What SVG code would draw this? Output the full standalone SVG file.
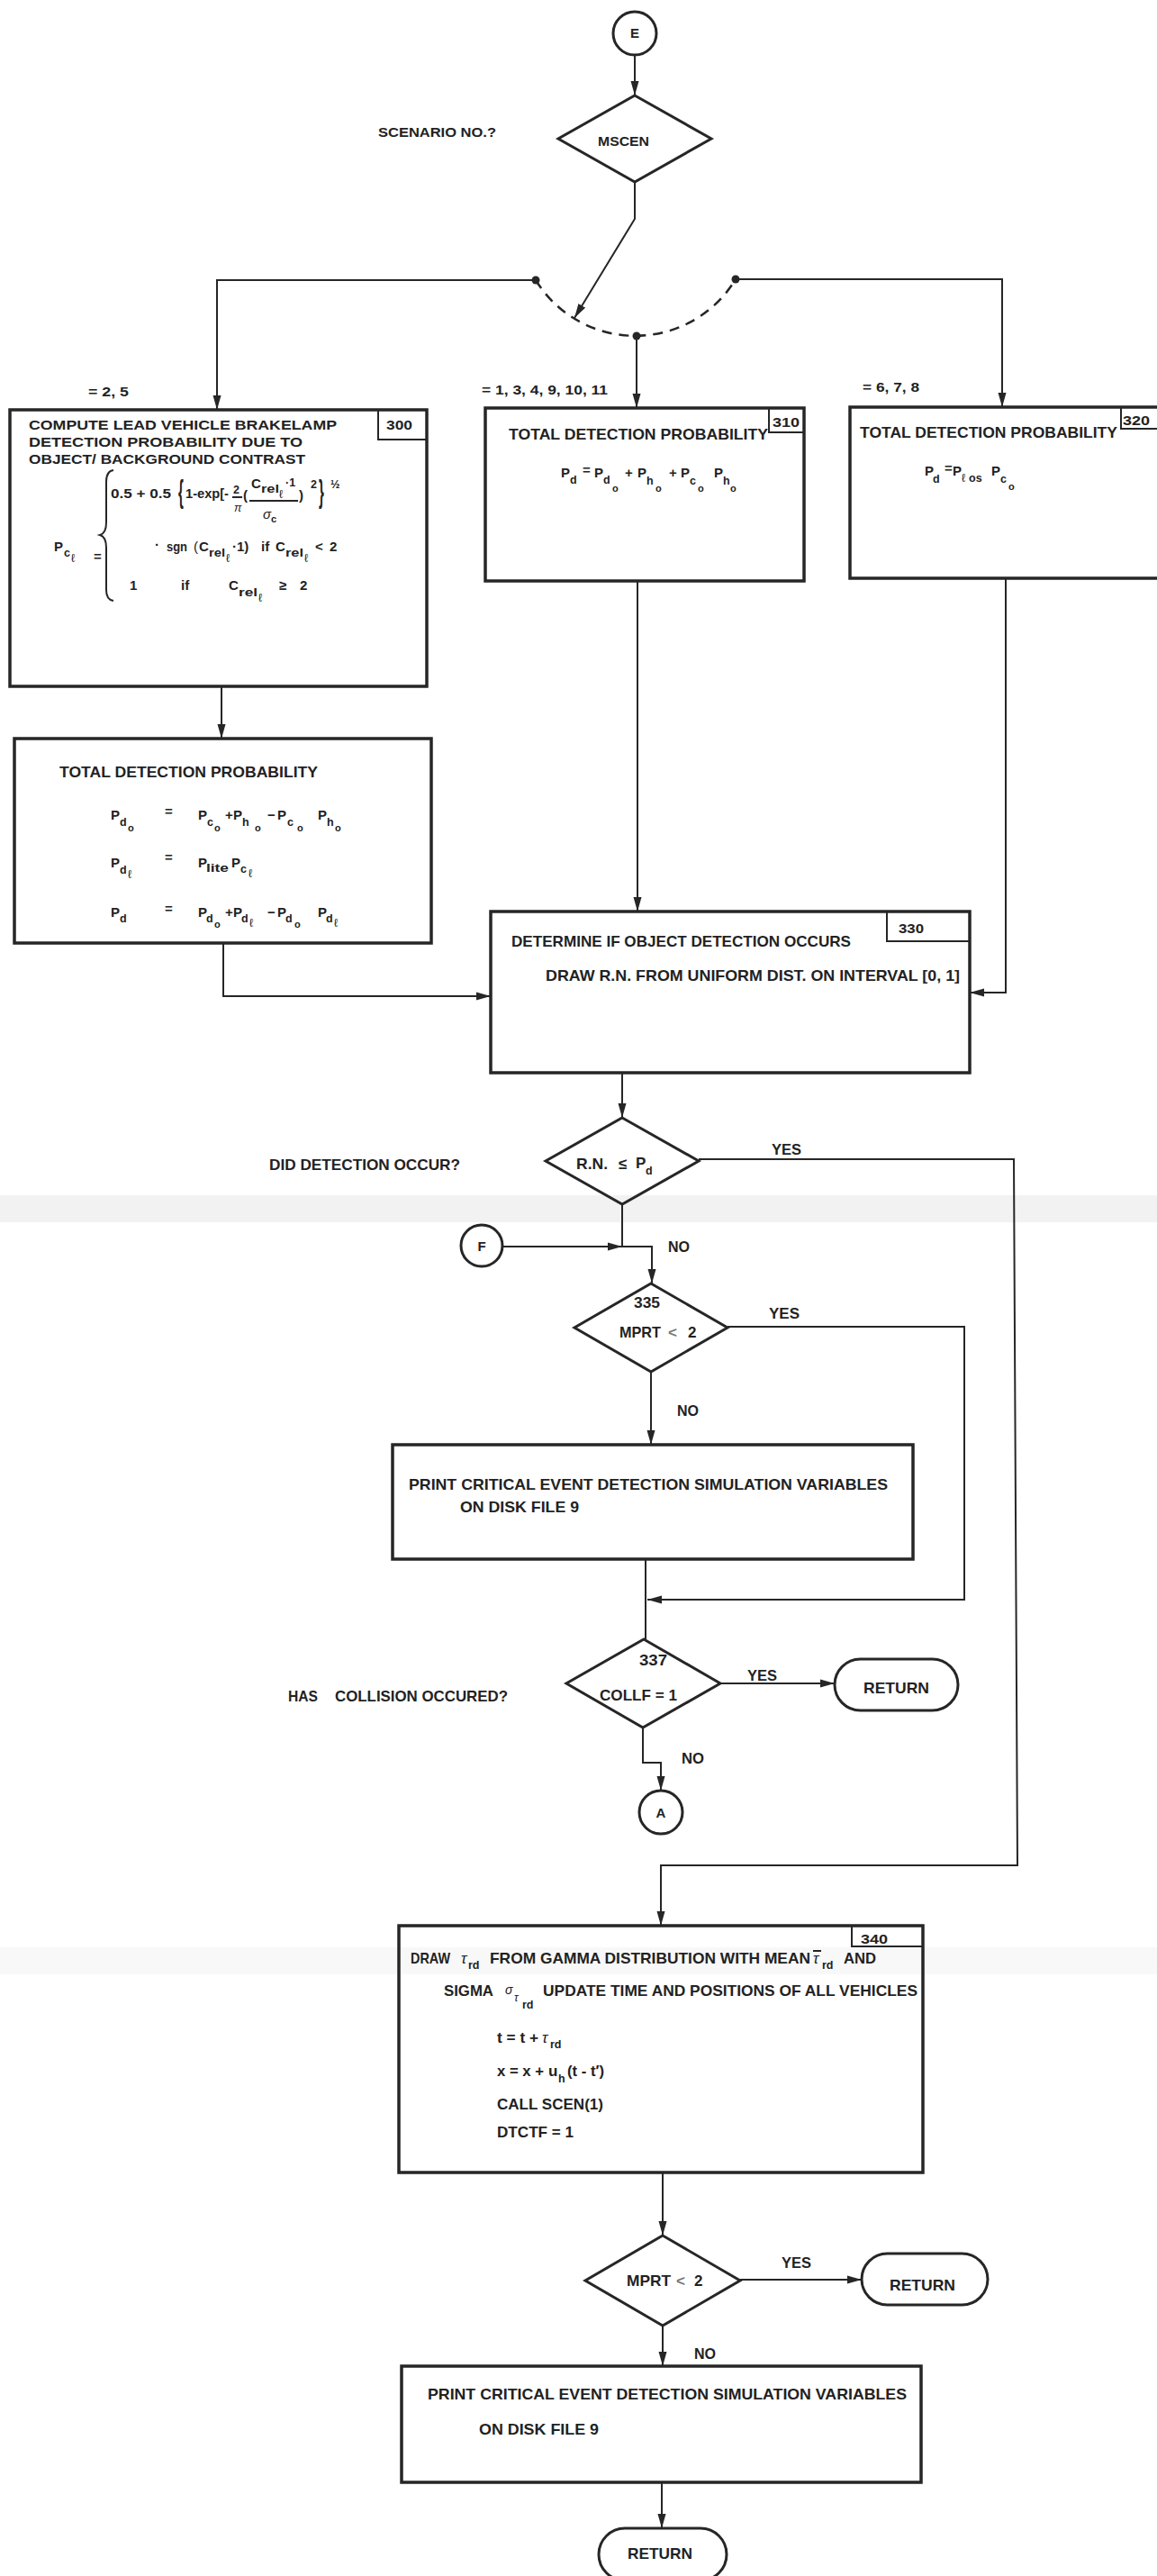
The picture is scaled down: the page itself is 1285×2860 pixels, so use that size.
<svg xmlns="http://www.w3.org/2000/svg" width="1285" height="2860" viewBox="0 0 1285 2860">
  <style>
    .ln { fill: none; stroke: #262626; stroke-width: 2; }
    .dash { fill: none; stroke: #262626; stroke-width: 2.5; stroke-dasharray: 11 8; }
    .bx { fill: none; stroke: #262626; stroke-width: 3.5; }
    .tag { fill: none; stroke: #262626; stroke-width: 2; }
    .dm { fill: none; stroke: #262626; stroke-width: 3; }
    .dot { fill: #262626; }
    text { font-family: "Liberation Sans", Arial, sans-serif; font-weight: bold; fill: #222; }
    .t15 { font-size: 15px; }
    .t16 { font-size: 17px; }
    .m { font-size: 15px; }
    .sb { font-size: 12.5px; }
    .ss { font-size: 11px; }
    .sl { font-size: 13px; font-weight: normal; }
    .it { font-style: italic; font-weight: normal; }
    .c { text-anchor: middle; }
  </style>
  <defs>
    <marker id="ah" viewBox="0 0 16 10" refX="16" refY="5" markerWidth="16" markerHeight="10" markerUnits="userSpaceOnUse" orient="auto">
      <path d="M0,0.5 L16,5 L0,9.5 z" fill="#262626"/>
    </marker>
  </defs>

  <rect width="1285" height="2860" fill="#ffffff"/>
  <!-- faint scan bands -->
  <rect x="0" y="1327" width="1285" height="30" fill="#f2f2f2"/>
  <rect x="0" y="2162" width="1285" height="30" fill="#f8f8f8"/>

  <!-- connectors -->
  <g id="connectors">
    <path class="ln" d="M705,61 L705,106" marker-end="url(#ah)"/>
    <path class="ln" d="M705,202 L705,243 L638,353" marker-end="url(#ah)"/>
    <path class="dash" d="M595,311 A130,130 0 0 0 817,310"/>
    <circle class="dot" cx="595" cy="311" r="4.5"/>
    <circle class="dot" cx="707" cy="373" r="4.5"/>
    <circle class="dot" cx="817" cy="310" r="4.5"/>
    <path class="ln" d="M595,311 L241,311 L241,455" marker-end="url(#ah)"/>
    <path class="ln" d="M707,373 L707,453" marker-end="url(#ah)"/>
    <path class="ln" d="M817,310 L1113,310 L1113,452" marker-end="url(#ah)"/>
    <path class="ln" d="M246,762 L246,820" marker-end="url(#ah)"/>
    <path class="ln" d="M248,1047 L248,1106 L545,1106" marker-end="url(#ah)"/>
    <path class="ln" d="M708,645 L708,1012" marker-end="url(#ah)"/>
    <path class="ln" d="M1117,642 L1117,1102 L1077,1102" marker-end="url(#ah)"/>
    <path class="ln" d="M691,1191 L691,1241" marker-end="url(#ah)"/>
    <path class="ln" d="M691,1337 L691,1384 L724,1384 L724,1425" marker-end="url(#ah)"/>
    <path class="ln" d="M558,1384 L691,1384" marker-end="url(#ah)"/>
    <path class="ln" d="M776,1287 L1126,1287 L1130,2071 L734,2071 L734,2138" marker-end="url(#ah)"/>
    <path class="ln" d="M723,1523 L723,1604" marker-end="url(#ah)"/>
    <path class="ln" d="M808,1473 L1071,1473 L1071,1776 L719,1776" marker-end="url(#ah)"/>
    <path class="ln" d="M717,1731 L717,1820"/>
    <path class="ln" d="M799,1869 L927,1869" marker-end="url(#ah)"/>
    <path class="ln" d="M714,1918 L714,1957 L734,1957 L734,1988" marker-end="url(#ah)"/>
    <path class="ln" d="M736,2412 L736,2482" marker-end="url(#ah)"/>
    <path class="ln" d="M822,2531 L957,2531" marker-end="url(#ah)"/>
    <path class="ln" d="M736,2582 L736,2627" marker-end="url(#ah)"/>
    <path class="ln" d="M735,2756 L735,2807" marker-end="url(#ah)"/>
  </g>

  <!-- connector labels -->
  <g id="labels">
    <text class="t15" x="420" y="152" textLength="131" lengthAdjust="spacingAndGlyphs">SCENARIO NO.?</text>
    <text class="t15" x="98" y="440" textLength="45" lengthAdjust="spacingAndGlyphs">= 2, 5</text>
    <text class="t15" x="535" y="438" textLength="140" lengthAdjust="spacingAndGlyphs">= 1, 3, 4, 9, 10, 11</text>
    <text class="t15" x="958" y="435" textLength="63" lengthAdjust="spacingAndGlyphs">= 6, 7, 8</text>
    <text class="t16" x="299" y="1299" textLength="212" lengthAdjust="spacingAndGlyphs">DID DETECTION OCCUR?</text>
    <text class="t16" x="857" y="1282" textLength="33" lengthAdjust="spacingAndGlyphs">YES</text>
    <text class="t16" x="742" y="1390" textLength="24" lengthAdjust="spacingAndGlyphs">NO</text>
    <text class="t16" x="854" y="1464" textLength="34" lengthAdjust="spacingAndGlyphs">YES</text>
    <text class="t16" x="752" y="1572" textLength="24" lengthAdjust="spacingAndGlyphs">NO</text>
    <text class="t16" x="830" y="1866" textLength="33" lengthAdjust="spacingAndGlyphs">YES</text>
    <text class="t16"><tspan x="320" y="1889" textLength="33" lengthAdjust="spacingAndGlyphs">HAS</tspan><tspan x="372" y="1889" textLength="192" lengthAdjust="spacingAndGlyphs">COLLISION OCCURED?</tspan></text>
    <text class="t16" x="757" y="1958" textLength="25" lengthAdjust="spacingAndGlyphs">NO</text>
    <text class="t16" x="868" y="2518" textLength="33" lengthAdjust="spacingAndGlyphs">YES</text>
    <text class="t16" x="771" y="2619" textLength="24" lengthAdjust="spacingAndGlyphs">NO</text>
  </g>

  <!-- connector E -->
  <g id="node-E">
    <circle class="dm" cx="705" cy="37" r="24"/>
    <text class="t15 c" x="705" y="42">E</text>
  </g>

  <!-- scenario switch -->
  <g id="node-mscen">
    <path class="dm" d="M705,106 L790,154 L705,202 L620,154 Z"/>
    <text class="t15" x="664" y="162" textLength="57" lengthAdjust="spacingAndGlyphs">MSCEN</text>
  </g>

  <!-- block 300 -->
  <g id="node-300">
    <rect class="bx" x="11" y="455" width="463" height="307"/>
    <path class="tag" d="M420,455 L420,488 L474,488"/>
    <text class="t15" x="429" y="477" textLength="29" lengthAdjust="spacingAndGlyphs">300</text>
    <text class="t15" x="32" y="477" textLength="342" lengthAdjust="spacingAndGlyphs">COMPUTE LEAD VEHICLE BRAKELAMP</text>
    <text class="t15" x="32" y="496" textLength="304" lengthAdjust="spacingAndGlyphs">DETECTION PROBABILITY DUE TO</text>
    <text class="t15" x="32" y="515" textLength="307" lengthAdjust="spacingAndGlyphs">OBJECT/ BACKGROUND CONTRAST</text>
    <!-- piecewise brace -->
    <path class="ln" d="M126,522 Q118,523 118,535 L118,580 Q118,592 111,594 Q118,596 118,608 L118,655 Q118,666 126,667"/>
    <!-- first case -->
    <text class="m" x="123" y="553" textLength="67" lengthAdjust="spacingAndGlyphs">0.5 + 0.5</text>
    <text class="m" font-weight="normal" transform="translate(198,558) scale(1,2.3)">{</text>
    <text class="m" x="206" y="553" textLength="48" lengthAdjust="spacingAndGlyphs">1-exp[-</text>
    <text class="sb" x="259" y="548">2</text>
    <line class="ln" x1="258" y1="552" x2="269" y2="552" stroke-width="1.5"/>
    <text class="sb it" x="260" y="568">π</text>
    <text class="m" font-weight="normal" x="270" y="555">(</text>
    <text class="m"><tspan x="279" y="542">C</tspan><tspan class="sb" x="290" y="547" textLength="20" lengthAdjust="spacingAndGlyphs">rel</tspan><tspan class="sl" x="310" y="553">ℓ</tspan><tspan class="sb" x="317" y="540">·1</tspan></text>
    <line class="ln" x1="277" y1="556" x2="331" y2="556" stroke-width="1.5"/>
    <text class="m it" x="292" y="576">σ</text>
    <text class="ss" x="301" y="580">c</text>
    <text class="m" font-weight="normal" x="332" y="555">)</text>
    <text class="sb" x="345" y="542">2</text>
    <text class="m" font-weight="normal" transform="translate(354,558) scale(1,2.3)">}</text>
    <text class="sb" x="367" y="542">½</text>
    <!-- left side -->
    <text class="m"><tspan x="60" y="612">P</tspan><tspan class="sb" x="71" y="618">c</tspan><tspan class="sl" x="79" y="624">ℓ</tspan></text>
    <text class="m" x="104" y="623">=</text>
    <!-- second line of first case -->
    <text class="m"><tspan x="172" y="610">·</tspan><tspan x="185" y="612" textLength="23" lengthAdjust="spacingAndGlyphs">sgn</tspan><tspan x="215" y="612" font-weight="normal">(</tspan><tspan x="221" y="612">C</tspan><tspan class="sb" x="232" y="618" textLength="18" lengthAdjust="spacingAndGlyphs">rel</tspan><tspan class="sl" x="251" y="624">ℓ</tspan><tspan x="258" y="612">·1)</tspan><tspan x="290" y="612">if</tspan><tspan x="306" y="612">C</tspan><tspan class="sb" x="317" y="618" textLength="20" lengthAdjust="spacingAndGlyphs">rel</tspan><tspan class="sl" x="338" y="624">ℓ</tspan><tspan x="350" y="612">&lt;</tspan><tspan x="366" y="612">2</tspan></text>
    <!-- second case -->
    <text class="m"><tspan x="144" y="655">1</tspan><tspan x="201" y="655">if</tspan><tspan x="254" y="655">C</tspan><tspan class="sb" x="265" y="662" textLength="21" lengthAdjust="spacingAndGlyphs">rel</tspan><tspan class="sl" x="287" y="668">ℓ</tspan><tspan x="310" y="655">≥</tspan><tspan x="333" y="655">2</tspan></text>
  </g>

  <!-- total detection probability (brakelamp branch) -->
  <g id="node-total-lamp">
    <rect class="bx" x="16" y="820" width="463" height="227"/>
    <text class="t16" x="66" y="863" textLength="287" lengthAdjust="spacingAndGlyphs">TOTAL DETECTION PROBABILITY</text>
    <text class="m"><tspan x="123" y="910">P</tspan><tspan class="sb" x="133" y="917">d</tspan><tspan class="ss" x="142" y="923">o</tspan><tspan x="183" y="906">=</tspan><tspan x="220" y="910">P</tspan><tspan class="sb" x="230" y="917">c</tspan><tspan class="ss" x="238" y="923">o</tspan><tspan x="250" y="910">+</tspan><tspan x="259" y="910">P</tspan><tspan class="sb" x="269" y="917">h</tspan><tspan class="ss" x="283" y="923">o</tspan><tspan x="297" y="910">−</tspan><tspan x="308" y="910">P</tspan><tspan class="sb" x="319" y="917">c</tspan><tspan class="ss" x="330" y="923">o</tspan><tspan x="353" y="910">P</tspan><tspan class="sb" x="363" y="917">h</tspan><tspan class="ss" x="372" y="923">o</tspan></text>
    <text class="m"><tspan x="123" y="963">P</tspan><tspan class="sb" x="133" y="970">d</tspan><tspan class="sl" x="142" y="975">ℓ</tspan><tspan x="183" y="957">=</tspan><tspan x="220" y="963">P</tspan><tspan class="sb" x="229" y="968" textLength="25" lengthAdjust="spacingAndGlyphs">lite</tspan><tspan x="257" y="963">P</tspan><tspan class="sb" x="267" y="969">c</tspan><tspan class="sl" x="276" y="974">ℓ</tspan></text>
    <text class="m"><tspan x="123" y="1018">P</tspan><tspan class="sb" x="133" y="1024">d</tspan><tspan x="183" y="1014">=</tspan><tspan x="220" y="1018">P</tspan><tspan class="sb" x="229" y="1024">d</tspan><tspan class="ss" x="238" y="1030">o</tspan><tspan x="250" y="1018">+</tspan><tspan x="259" y="1018">P</tspan><tspan class="sb" x="268" y="1024">d</tspan><tspan class="sl" x="277" y="1029">ℓ</tspan><tspan x="297" y="1018">−</tspan><tspan x="308" y="1018">P</tspan><tspan class="sb" x="317" y="1024">d</tspan><tspan class="ss" x="327" y="1030">o</tspan><tspan x="353" y="1018">P</tspan><tspan class="sb" x="362" y="1024">d</tspan><tspan class="sl" x="371" y="1029">ℓ</tspan></text>
  </g>

  <!-- block 310 -->
  <g id="node-310">
    <rect class="bx" x="539" y="453" width="354" height="192"/>
    <path class="tag" d="M854,453 L854,480 L893,480"/>
    <text class="t15" x="858" y="474" textLength="30" lengthAdjust="spacingAndGlyphs">310</text>
    <text class="t16" x="565" y="488" textLength="288" lengthAdjust="spacingAndGlyphs">TOTAL DETECTION PROBABILITY</text>
    <text class="m"><tspan x="623" y="530">P</tspan><tspan class="sb" x="633" y="537">d</tspan><tspan x="647" y="527">=</tspan><tspan x="660" y="530">P</tspan><tspan class="sb" x="670" y="537">d</tspan><tspan class="ss" x="680" y="546">o</tspan><tspan x="694" y="530">+</tspan><tspan x="708" y="530">P</tspan><tspan class="sb" x="718" y="538">h</tspan><tspan class="ss" x="728" y="546">o</tspan><tspan x="743" y="530">+</tspan><tspan x="756" y="530">P</tspan><tspan class="sb" x="766" y="538">c</tspan><tspan class="ss" x="775" y="546">o</tspan><tspan x="793" y="530">P</tspan><tspan class="sb" x="803" y="538">h</tspan><tspan class="ss" x="811" y="546">o</tspan></text>
  </g>

  <!-- block 320 -->
  <g id="node-320">
    <rect class="bx" x="944" y="452" width="360" height="190"/>
    <path class="tag" d="M1245,452 L1245,476 L1290,476"/>
    <text class="t15" x="1247" y="472" textLength="30" lengthAdjust="spacingAndGlyphs">320</text>
    <text class="t16" x="955" y="486" textLength="286" lengthAdjust="spacingAndGlyphs">TOTAL DETECTION PROBABILITY</text>
    <text class="m"><tspan x="1027" y="528">P</tspan><tspan class="sb" x="1036" y="536">d</tspan><tspan x="1049" y="525">=</tspan><tspan x="1058" y="528">P</tspan><tspan class="sl" x="1068" y="535">ℓ</tspan><tspan class="sb" x="1076" y="535">os</tspan><tspan x="1101" y="528">P</tspan><tspan class="sb" x="1111" y="536">c</tspan><tspan class="ss" x="1120" y="544">o</tspan></text>
  </g>

  <!-- block 330 -->
  <g id="node-330">
    <rect class="bx" x="545" y="1012" width="532" height="179"/>
    <path class="tag" d="M985,1012 L985,1045 L1077,1045"/>
    <text class="t15" x="998" y="1036" textLength="28" lengthAdjust="spacingAndGlyphs">330</text>
    <text class="t16" x="568" y="1051" textLength="377" lengthAdjust="spacingAndGlyphs">DETERMINE IF OBJECT DETECTION OCCURS</text>
    <text class="t16" x="606" y="1089" textLength="460" lengthAdjust="spacingAndGlyphs">DRAW R.N. FROM UNIFORM DIST. ON INTERVAL [0, 1]</text>
  </g>

  <!-- detection test -->
  <g id="node-detect">
    <path class="dm" d="M691,1241 L776,1289 L691,1337 L606,1289 Z"/>
    <text class="t16"><tspan x="640" y="1298" textLength="35" lengthAdjust="spacingAndGlyphs">R.N.</tspan><tspan x="687" y="1298">≤</tspan><tspan x="706" y="1297">P</tspan><tspan class="sb" x="717" y="1304">d</tspan></text>
  </g>

  <!-- connector F -->
  <g id="node-F">
    <circle class="dm" cx="535" cy="1383" r="23"/>
    <text class="t15 c" x="535" y="1389">F</text>
  </g>

  <!-- print switch 335 -->
  <g id="node-335">
    <path class="dm" d="M723,1425 L808,1474 L723,1523 L638,1474 Z"/>
    <text class="t16" x="704" y="1452" textLength="29" lengthAdjust="spacingAndGlyphs">335</text>
    <text class="t16"><tspan x="688" y="1485" textLength="46" lengthAdjust="spacingAndGlyphs">MPRT</tspan><tspan x="742" y="1485" fill="#777">&lt;</tspan><tspan x="764" y="1485">2</tspan></text>
  </g>

  <!-- print block 1 -->
  <g id="node-print1">
    <rect class="bx" x="436" y="1604" width="578" height="127"/>
    <text class="t16" x="454" y="1654" textLength="532" lengthAdjust="spacingAndGlyphs">PRINT CRITICAL EVENT DETECTION SIMULATION VARIABLES</text>
    <text class="t16" x="511" y="1679" textLength="132" lengthAdjust="spacingAndGlyphs">ON DISK FILE 9</text>
  </g>

  <!-- collision test 337 -->
  <g id="node-337">
    <path class="dm" d="M715,1820 L800,1869 L714,1918 L629,1869 Z"/>
    <text class="t16" x="710" y="1849" textLength="31" lengthAdjust="spacingAndGlyphs">337</text>
    <text class="t16" x="666" y="1888" textLength="86" lengthAdjust="spacingAndGlyphs">COLLF = 1</text>
  </g>

  <g id="node-return1">
    <rect class="dm" x="927" y="1842" width="137" height="57" rx="28.5"/>
    <text class="t16" x="959" y="1880" textLength="73" lengthAdjust="spacingAndGlyphs">RETURN</text>
  </g>

  <!-- connector A -->
  <g id="node-A">
    <circle class="dm" cx="734" cy="2012" r="24"/>
    <text class="t15 c" x="734" y="2018">A</text>
  </g>

  <!-- block 340 -->
  <g id="node-340">
    <rect class="bx" x="443" y="2138" width="582" height="274"/>
    <path class="tag" d="M946,2138 L946,2161 L1025,2161"/>
    <text class="t15" x="956" y="2158" textLength="30" lengthAdjust="spacingAndGlyphs">340</text>
    <text class="t16"><tspan x="456" y="2180" textLength="44" lengthAdjust="spacingAndGlyphs">DRAW</tspan><tspan class="it" x="512" y="2180">τ</tspan><tspan class="sb" x="520" y="2186">rd</tspan><tspan x="544" y="2180" textLength="356" lengthAdjust="spacingAndGlyphs">FROM GAMMA DISTRIBUTION WITH MEAN</tspan><tspan class="it" x="903" y="2180">τ</tspan><tspan class="sb" x="913" y="2186">rd</tspan><tspan x="937" y="2180" textLength="36" lengthAdjust="spacingAndGlyphs">AND</tspan></text>
    <line class="ln" x1="903" y1="2166" x2="912" y2="2166" stroke-width="1.5"/>
    <text class="t16"><tspan x="493" y="2216" textLength="55" lengthAdjust="spacingAndGlyphs">SIGMA</tspan><tspan class="it" x="561" y="2214" font-size="14">σ</tspan><tspan class="sb it" x="571" y="2222">τ</tspan><tspan class="sb" x="580" y="2230">rd</tspan><tspan x="603" y="2216" textLength="416" lengthAdjust="spacingAndGlyphs">UPDATE TIME AND POSITIONS OF ALL VEHICLES</tspan></text>
    <text class="t16"><tspan x="552" y="2268" textLength="46" lengthAdjust="spacingAndGlyphs">t = t +</tspan><tspan class="it" x="602" y="2268">τ</tspan><tspan class="sb" x="611" y="2274">rd</tspan></text>
    <text class="t16"><tspan x="552" y="2305" textLength="52" lengthAdjust="spacingAndGlyphs">x = x +</tspan><tspan x="609" y="2305">u</tspan><tspan class="sb" x="620" y="2312">h</tspan><tspan x="630" y="2305" textLength="41" lengthAdjust="spacingAndGlyphs">(t - t′)</tspan></text>
    <text class="t16" x="552" y="2342" textLength="118" lengthAdjust="spacingAndGlyphs">CALL SCEN(1)</text>
    <text class="t16" x="552" y="2373" textLength="85" lengthAdjust="spacingAndGlyphs">DTCTF = 1</text>
  </g>

  <!-- final print switch -->
  <g id="node-mprt">
    <path class="dm" d="M736,2482 L822,2532 L736,2582 L650,2532 Z"/>
    <text class="t16"><tspan x="696" y="2538" textLength="49" lengthAdjust="spacingAndGlyphs">MPRT</tspan><tspan x="751" y="2538" fill="#777">&lt;</tspan><tspan x="771" y="2538">2</tspan></text>
  </g>

  <g id="node-return2">
    <rect class="dm" x="957" y="2502" width="140" height="57" rx="28.5"/>
    <text class="t16" x="988" y="2543" textLength="73" lengthAdjust="spacingAndGlyphs">RETURN</text>
  </g>

  <!-- print block 2 -->
  <g id="node-print2">
    <rect class="bx" x="446" y="2627" width="577" height="129"/>
    <text class="t16" x="475" y="2664" textLength="532" lengthAdjust="spacingAndGlyphs">PRINT CRITICAL EVENT DETECTION SIMULATION VARIABLES</text>
    <text class="t16" x="532" y="2703" textLength="133" lengthAdjust="spacingAndGlyphs">ON DISK FILE 9</text>
  </g>

  <g id="node-return3">
    <rect class="dm" x="665" y="2807" width="142" height="58" rx="29"/>
    <text class="t16" x="697" y="2841" textLength="72" lengthAdjust="spacingAndGlyphs">RETURN</text>
  </g>
</svg>
